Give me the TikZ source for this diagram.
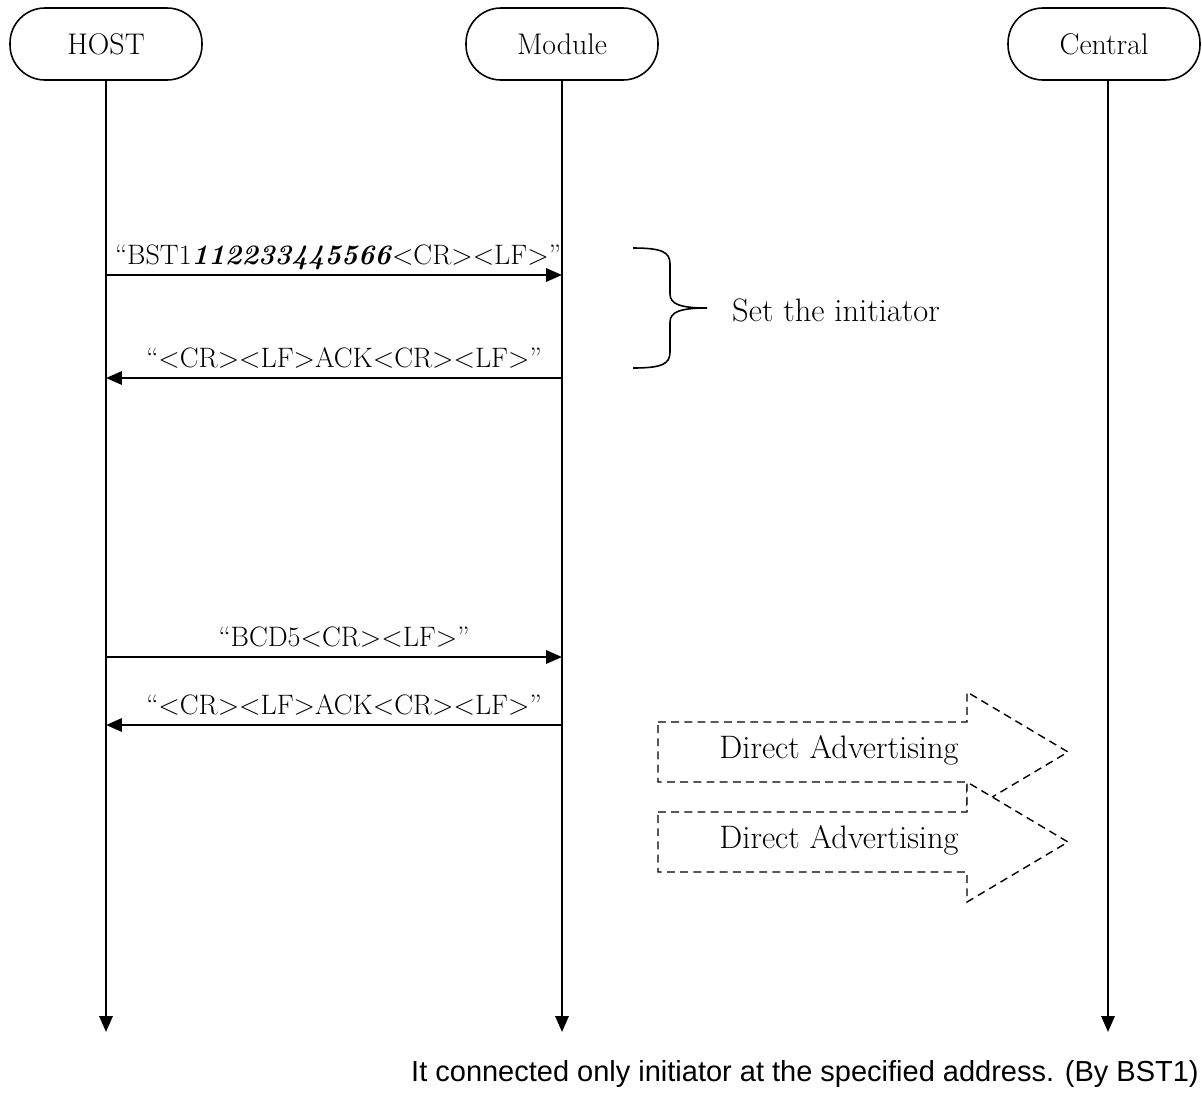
\documentclass[tikz,border=0pt]{standalone}
\usepackage{fontspec}
\setsansfont{Liberation Sans}
\usetikzlibrary{arrows.meta}

\tikzset{
  party/.style={draw, line width=0.9pt, rounded corners=0.7cm, minimum width=3.84cm, minimum height=1.44cm, font=\fontsize{17}{20}\selectfont},
  life/.style={line width=1.3pt, -{Triangle[length=9pt,width=7.5pt]}},
  msg/.style={line width=1.3pt, -{Triangle[length=9pt,width=7.5pt]}},
  lbl/.style={font=\fontsize{16}{19}\selectfont},
  txt/.style={font=\fontsize{18.5}{22}\selectfont},
  adv/.style={draw, dash pattern=on 4.5pt off 3pt, line width=0.8pt, fill=white}
}

\begin{document}
\begin{tikzpicture}[x=0.02cm, y=-0.02cm]
\useasboundingbox (0,0) rectangle (1202,1106);
% parties
\node [party] (host) at (106,44) {HOST};
\node [party] (module) at (562,44) {Module};
\node [party] (central) at (1104,44) {Central};
% lifelines
\coordinate (hostend) at (106,1032);
\coordinate (moduleend) at (562,1032);
\coordinate (centralend) at (1108,1032);
\draw [life] (host) -- (hostend);
\draw [life] (module) -- (moduleend);
\draw [life] (central.south -| centralend) -- (centralend);
% set the initiator
\coordinate (h1) at (106,275);
\coordinate (m1) at (562,275);
\coordinate (h2) at (106,378);
\coordinate (m2) at (562,378);
\draw [msg] (h1) -- node [lbl, above, xshift=0.08cm, inner sep=2pt] {``BST1\textbf{\textit{112233445566}}<CR><LF>''} (m1);
\draw [msg] (m2) -- node [lbl, above, xshift=0.2cm, inner sep=5pt] {``<CR><LF>ACK<CR><LF>''} (h2);
\draw [line width=0.9pt] (633,248) .. controls (662,248) and (670,252) .. (670,264) -- (670,294)
  .. controls (670,304) and (680,308) .. (707,308)
  .. controls (680,308) and (670,312) .. (670,322) -- (670,352)
  .. controls (670,364) and (662,368) .. (633,368);
\node [txt, anchor=west] (init) at (726,310) {Set the initiator};
% direct advertising
\coordinate (h3) at (106,657);
\coordinate (m3) at (562,657);
\coordinate (h4) at (106,725);
\coordinate (m4) at (562,725);
\draw [msg] (h3) -- node [lbl, above, xshift=0.2cm, inner sep=5pt] {``BCD5<CR><LF>''} (m3);
\draw [msg] (m4) -- node [lbl, above, xshift=0.2cm, inner sep=5pt] {``<CR><LF>ACK<CR><LF>''} (h4);
\draw [adv] (658,722) -- (967,722) -- (967,692) -- (1068,752) -- (967,812) -- (967,782) -- (658,782) -- cycle;
\node [txt] (adv1) at (839,750) {Direct Advertising};
\draw [adv] (658,812) -- (967,812) -- (967,782) -- (1068,842) -- (967,902) -- (967,872) -- (658,872) -- cycle;
\node [txt] (adv2) at (839,840) {Direct Advertising};
% note
\node [font=\sffamily\fontsize{16.5}{19}\selectfont, anchor=east, inner sep=0pt] (note) at (1199,1074) {It connected only initiator at the specified address. (By BST1)};
\end{tikzpicture}
\end{document}
